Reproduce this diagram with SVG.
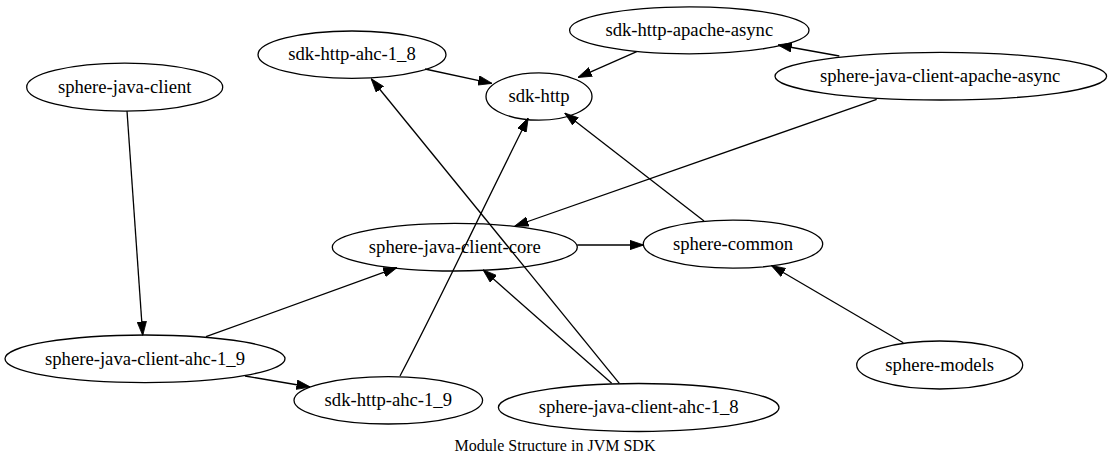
<svg xmlns="http://www.w3.org/2000/svg" width="1111" height="464" viewBox="0 0 1111 464">
<defs>
<style>
.node ellipse{fill:none;stroke:#000;stroke-width:1.3}
.node text{font-size:18.67px;text-anchor:middle;fill:#000}
.edges path{fill:none;stroke:#000;stroke-width:1.3;marker-end:url(#ah)}
.title{font-size:16px;text-anchor:middle;fill:#000}
</style>
<marker id="ah" markerUnits="userSpaceOnUse" markerWidth="14" markerHeight="10" viewBox="0 0 14 10" refX="13.5" refY="5" orient="auto">
<path d="M0,0.3 L14,5 L0,9.7 z" fill="#000" stroke="#000" stroke-width="0.8"/>
</marker>
</defs>
<rect x="0" y="0" width="1111" height="464" fill="#fff"/>
<g class="edges" id="edges">
<path d="M127,111 L142.7,335"/>
<path d="M425,69 L491.7,83.3"/>
<path d="M636.7,51.7 L578.3,77.3"/>
<path d="M839.3,56 L778.3,45"/>
<path d="M876.7,99.3 L515,226"/>
<path d="M577.3,245 L643.3,245"/>
<path d="M704,221 L565,113.3"/>
<path d="M206,336.7 L396.7,267.7"/>
<path d="M245,376 L310,387"/>
<path d="M400,376 C440,300 475,224 528,118.3"/>
<path d="M611.7,383.3 L483.3,270"/>
<path d="M619.3,383.3 L371.4,79"/>
<path d="M903.3,342.7 L771.7,265.7"/>
</g>
<g font-family="'Liberation Serif', 'Times New Roman', Times, 'DejaVu Serif', serif">
<g class="node" id="sphere-java-client"><ellipse cx="124.7" cy="87.2" rx="98" ry="24"/><text x="124.7" y="93">sphere-java-client</text></g>
<g class="node" id="sdk-http-ahc-1_8"><ellipse cx="352" cy="54.7" rx="94" ry="23.7"/><text x="352" y="60.4">sdk-http-ahc-1_8</text></g>
<g class="node" id="sdk-http"><ellipse cx="539" cy="96.5" rx="53" ry="23.7"/><text x="539" y="102.2">sdk-http</text></g>
<g class="node" id="sdk-http-apache-async"><ellipse cx="689.3" cy="30.3" rx="119.7" ry="23.5"/><text x="689.3" y="36">sdk-http-apache-async</text></g>
<g class="node" id="sphere-java-client-apache-async"><ellipse cx="940.8" cy="76.2" rx="165.8" ry="23.8"/><text x="940.2" y="81.9">sphere-java-client-apache-async</text></g>
<g class="node" id="sphere-java-client-core"><ellipse cx="454.8" cy="247.2" rx="122.5" ry="23.8"/><text x="454.8" y="252.9">sphere-java-client-core</text></g>
<g class="node" id="sphere-common"><ellipse cx="733" cy="244.2" rx="89.7" ry="24"/><text x="733" y="249.9">sphere-common</text></g>
<g class="node" id="sphere-java-client-ahc-1_9"><ellipse cx="145" cy="358.8" rx="140" ry="23.8"/><text x="145" y="364.5">sphere-java-client-ahc-1_9</text></g>
<g class="node" id="sdk-http-ahc-1_9"><ellipse cx="388.3" cy="400.3" rx="94.3" ry="23.7"/><text x="388.3" y="406">sdk-http-ahc-1_9</text></g>
<g class="node" id="sphere-java-client-ahc-1_8"><ellipse cx="638.7" cy="407.5" rx="140.3" ry="24"/><text x="638.7" y="413.2">sphere-java-client-ahc-1_8</text></g>
<g class="node" id="sphere-models"><ellipse cx="939.7" cy="365" rx="83" ry="24"/><text x="939.7" y="370.7">sphere-models</text></g>
<text class="title" x="555" y="451">Module Structure in JVM SDK</text>
</g>
</svg>
